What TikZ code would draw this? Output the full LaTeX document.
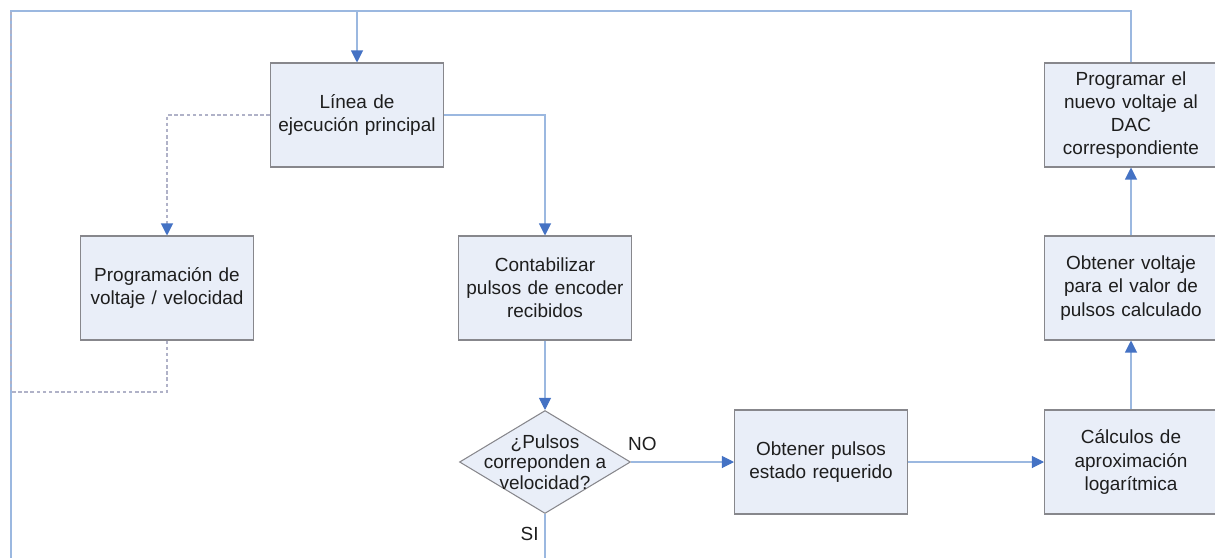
\documentclass[tikz,border=0pt]{standalone}
\usepackage{fontspec}
\setmainfont{Liberation Sans}
\usepackage{xcolor}
\usepackage{tikz}
\usetikzlibrary{shapes.geometric,arrows.meta}
\definecolor{boxfill}{RGB}{233,238,248}
\definecolor{boxline}{RGB}{135,135,140}
\definecolor{flowline}{RGB}{155,184,224}
\definecolor{tipblue}{RGB}{68,114,196}
\definecolor{dashline}{RGB}{176,178,200}
\definecolor{txt}{RGB}{30,30,30}

\begin{document}
\begin{tikzpicture}[x=0.02cm,y=-0.02cm,
        every node/.style={text=txt,font=\fontsize{10.8}{13.2}\selectfont},
        procbox/.style={draw=boxline,fill=boxfill,line width=0.6pt,minimum width=3.46cm,minimum height=2.08cm,text width=3.4cm,align=center,inner sep=0pt},
        decbox/.style={draw=boxline,fill=boxfill,line width=0.6pt,diamond,minimum width=3.42cm,minimum height=2.06cm,inner sep=0pt},
        link/.style={draw=flowline,line width=0.6pt},
        flow/.style={link,-{Triangle[length=2.4mm,width=2.4mm,color=tipblue]}},
        dashlink/.style={draw=dashline,line width=0.6pt,dash pattern=on 2pt off 1.5pt}]
        \useasboundingbox (0,0) rectangle (1215,558);
        \clip (0,0) rectangle (1215,558);

        \node[procbox] (linea) at (357,115) {Línea de\\ejecución principal};
        \node[procbox] (progvel) at (167,288) {Programación de\\voltaje / velocidad};
        \node[procbox] (contab) at (545,288) {Contabilizar\\pulsos de encoder\\recibidos};
        \node[decbox,label={[align=center,font=\fontsize{10.8}{11.6}\selectfont]center:{¿Pulsos\\correponden a\\velocidad?}}] (pulsosok) at (545,462) {};
        \node[procbox] (obtpul) at (821,462) {Obtener pulsos\\estado requerido};
        \node[procbox] (calclog) at (1131,462) {Cálculos de\\aproximación\\logarítmica};
        \node[procbox] (obtvolt) at (1131,288) {Obtener voltaje\\para el valor de\\pulsos calculado};
        \node[procbox] (progdac) at (1131,115) {Programar el\\nuevo voltaje al\\DAC\\correspondiente};

        \coordinate (esqsup) at (11,11);
        \coordinate (esqinf) at (11,570);
        \coordinate (retorno) at (11,392);
        \coordinate (entrada) at (357,11);
        \coordinate (salsi) at (545,570);

        \draw[link] (progdac.north) |- (esqsup) -- (esqinf);
        \draw[flow] (entrada) -- (linea.north);
        \draw[dashlink] (progvel.south) |- (retorno) -- (esqsup);
        \draw[dashlink,-{Triangle[length=2.4mm,width=2.4mm,color=tipblue]}] (linea.west) -| (progvel.north);
        \draw[flow] (linea.east) -| (contab.north);
        \draw[flow] (contab.south) -- (pulsosok.north);
        \draw[flow] (pulsosok.east) -- node[pos=0.11,above=3pt]{NO} (obtpul.west);
        \draw[link] (pulsosok.south) -- node[pos=0.35,left]{SI} (salsi);
        \draw[flow] (obtpul.east) -- (calclog.west);
        \draw[flow] (calclog.north) -- (obtvolt.south);
        \draw[flow] (obtvolt.north) -- (progdac.south);
    \end{tikzpicture}
\end{document}
